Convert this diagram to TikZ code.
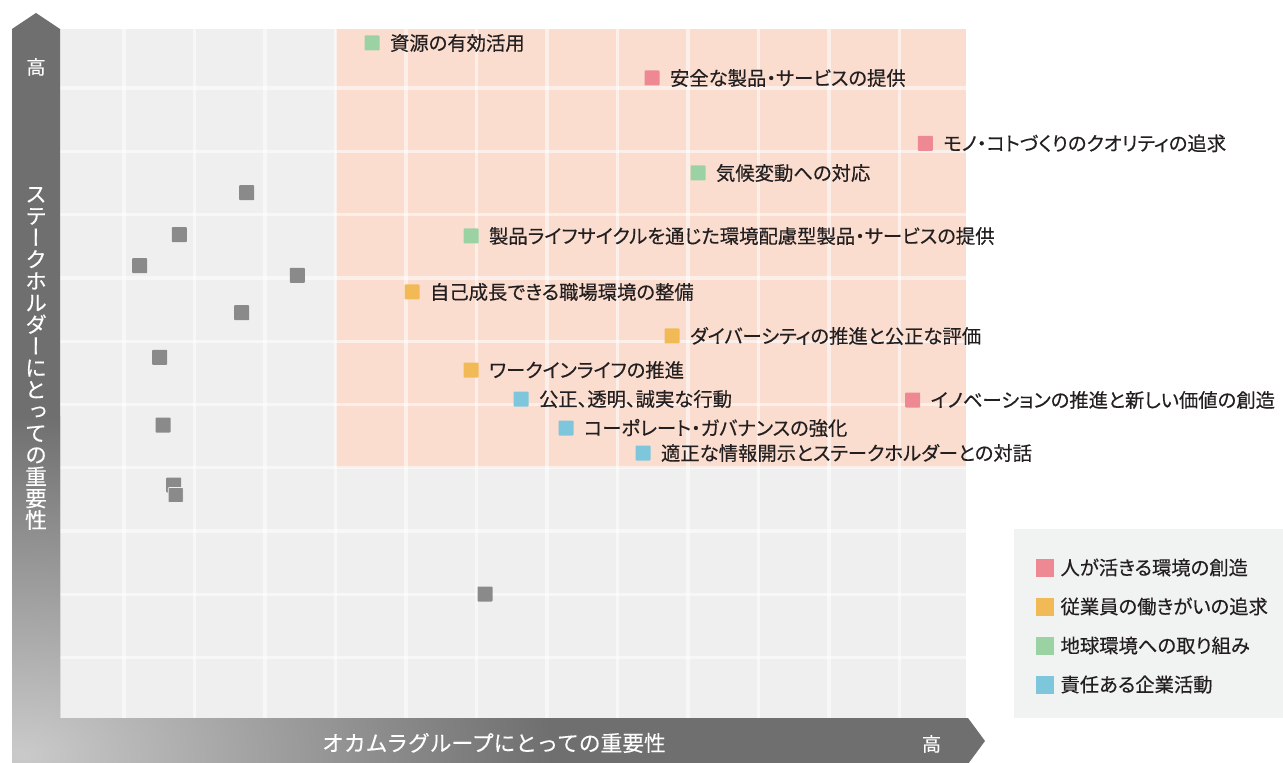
\documentclass[tikz,border=0pt]{standalone}
\usepackage{fontspec}
\setmainfont{Noto Sans CJK JP}[RawFeature=+palt,FakeBold=0.35]
\newfontfamily\axisfont{Noto Sans CJK JP}[FakeBold=0.3]
\newfontfamily\tatefont{Noto Sans CJK JP}[RawFeature=+vert,FakeBold=0.3]
\usetikzlibrary{positioning}

\definecolor{cellgray}{HTML}{EFEFEF}
\definecolor{zonepink}{HTML}{FADDCF}
\definecolor{ptgray}{HTML}{8A8A8A}
\definecolor{ptpink}{HTML}{EE8893}
\definecolor{ptorange}{HTML}{F2BA57}
\definecolor{ptgreen}{HTML}{9BD2A3}
\definecolor{ptblue}{HTML}{7DC6DB}
\definecolor{legendbg}{HTML}{F1F2F2}
\definecolor{inkc}{HTML}{231F20}
\definecolor{axisdark}{HTML}{6F6F6F}
\definecolor{axislight}{HTML}{CACACA}

\pgfdeclareradialshading{axisfade}{\pgfpointorigin}{color(0bp)=(axislight); color(25bp)=(axisdark); color(50bp)=(axisdark)}

\begin{document}
\begin{tikzpicture}[x=0.75pt,y=-0.75pt,
  sq/.style={fill=#1,minimum size=11.25pt,inner sep=0pt,rounded corners=0.6pt},
  lsq/.style={fill=#1,minimum size=13.5pt,inner sep=0pt},
  lbl/.style={inner sep=0pt,text=inkc,font=\fontsize{14.5pt}{16pt}\selectfont},
  axlbl/.style={inner sep=0pt,text=white,font=\axisfont\fontsize{16.3pt}{16.3pt}\selectfont},
  gridline/.style={white,opacity=0.55,line width=2.5pt},
  node distance=7.5pt]

\useasboundingbox (0,0) rectangle (1283,763);

\coordinate (ytip) at (36,13);
\coordinate (xtip) at (985,741);
\coordinate (O) at (22,755);

% plot area
\fill[cellgray] (60,29) rectangle (966,718);
\fill[zonepink] (336,29) rectangle (966,468);
\foreach \gx in {0,...,11}
  \draw[gridline] ({124+70.5*\gx},29) -- ({124+70.5*\gx},718);
\foreach \gy in {0,...,9}
  \draw[gridline] (60,{88+63.3*\gy}) -- (966,{88+63.3*\gy});

% axes
\fill[axisdark] (12,29) -- (ytip) -- (60,29) -- (60,718) -- (968,718) -- (xtip) -- (968,764) -- (12,764) -- cycle;
\begin{scope}
\clip (12,29) -- (ytip) -- (60,29) -- (60,718) -- (968,718) -- (xtip) -- (968,764) -- (12,764) -- cycle;
\shade[shading=axisfade] (O) ellipse [x radius=397.5pt, y radius=255pt];
\end{scope}

\node[axlbl] (xname) at (494,743) {オカムラグループにとっての重要性};
\node[axlbl,font=\axisfont\fontsize{14.25pt}{16pt}\selectfont] (xhigh) at (931.5,744) {高};
\node[axlbl,font=\axisfont\fontsize{14.25pt}{16pt}\selectfont] (yhigh) at (36,67) {高};
\node[axlbl,align=center,font=\tatefont\fontsize{16.3pt}{16.3pt}\selectfont] (yname) at (36,358.5)
  {ス\\テ\\ー\\ク\\ホ\\ル\\ダ\\ー\\に\\と\\っ\\て\\の\\重\\要\\性};

% other issues
\node[sq=ptgray] (g1) at (246.7,192.7) {};
\node[sq=ptgray] (g2) at (179.3,234.7) {};
\node[sq=ptgray] (g3) at (139.7,265.7) {};
\node[sq=ptgray] (g4) at (297.3,275.3) {};
\node[sq=ptgray] (g5) at (241.7,312.7) {};
\node[sq=ptgray] (g6) at (159.7,357.3) {};
\node[sq=ptgray] (g7) at (163,425) {};
\node[sq=ptgray] (g8) at (173.7,485) {};
\node[sq=ptgray,draw=cellgray,line width=0.5pt] (g9) at (175.7,495) {};
\node[sq=ptgray] (g10) at (485,594) {};

% material issues
\node[sq=ptgreen] (p1) at (372,43) {};
\node[lbl,right=of p1] (t1) {資源の有効活用};
\node[sq=ptpink] (p2) at (652,78) {};
\node[lbl,right=of p2] (t2) {安全な製品・サービスの提供};
\node[sq=ptpink] (p3) at (925.3,143.3) {};
\node[lbl,right=of p3] (t3) {モノ・コトづくりのクオリティの追求};
\node[sq=ptgreen] (p4) at (698,173) {};
\node[lbl,right=of p4] (t4) {気候変動への対応};
\node[sq=ptgreen] (p5) at (471,236) {};
\node[lbl,right=of p5] (t5) {製品ライフサイクルを通じた環境配慮型製品・サービスの提供};
\node[sq=ptorange] (p6) at (412,292) {};
\node[lbl,right=of p6] (t6) {自己成長できる職場環境の整備};
\node[sq=ptorange] (p7) at (672,336) {};
\node[lbl,right=of p7] (t7) {ダイバーシティの推進と公正な評価};
\node[sq=ptorange] (p8) at (471,370) {};
\node[lbl,right=of p8] (t8) {ワークインライフの推進};
\node[sq=ptblue] (p9) at (521,399) {};
\node[lbl,right=of p9] (t9) {公正、透明、誠実な行動};
\node[sq=ptpink] (p10) at (912.7,400) {};
\node[lbl,right=of p10] (t10) {イノベーションの推進と新しい価値の創造};
\node[sq=ptblue] (p11) at (566,428) {};
\node[lbl,right=of p11] (t11) {コーポレート・ガバナンスの強化};
\node[sq=ptblue] (p12) at (643,453) {};
\node[lbl,right=of p12] (t12) {適正な情報開示とステークホルダーとの対話};

% legend
\fill[legendbg] (1014,529) rectangle (1283,718);
\node[lsq=ptpink] (l1) at (1045,567.5) {};
\node[lbl,right=4.5pt of l1] (k1) {人が活きる環境の創造};
\node[lsq=ptorange] (l2) at (1045,606.5) {};
\node[lbl,right=4.5pt of l2] (k2) {従業員の働きがいの追求};
\node[lsq=ptgreen] (l3) at (1045,645.5) {};
\node[lbl,right=4.5pt of l3] (k3) {地球環境への取り組み};
\node[lsq=ptblue] (l4) at (1045,684.5) {};
\node[lbl,right=4.5pt of l4] (k4) {責任ある企業活動};
\end{tikzpicture}
\end{document}
